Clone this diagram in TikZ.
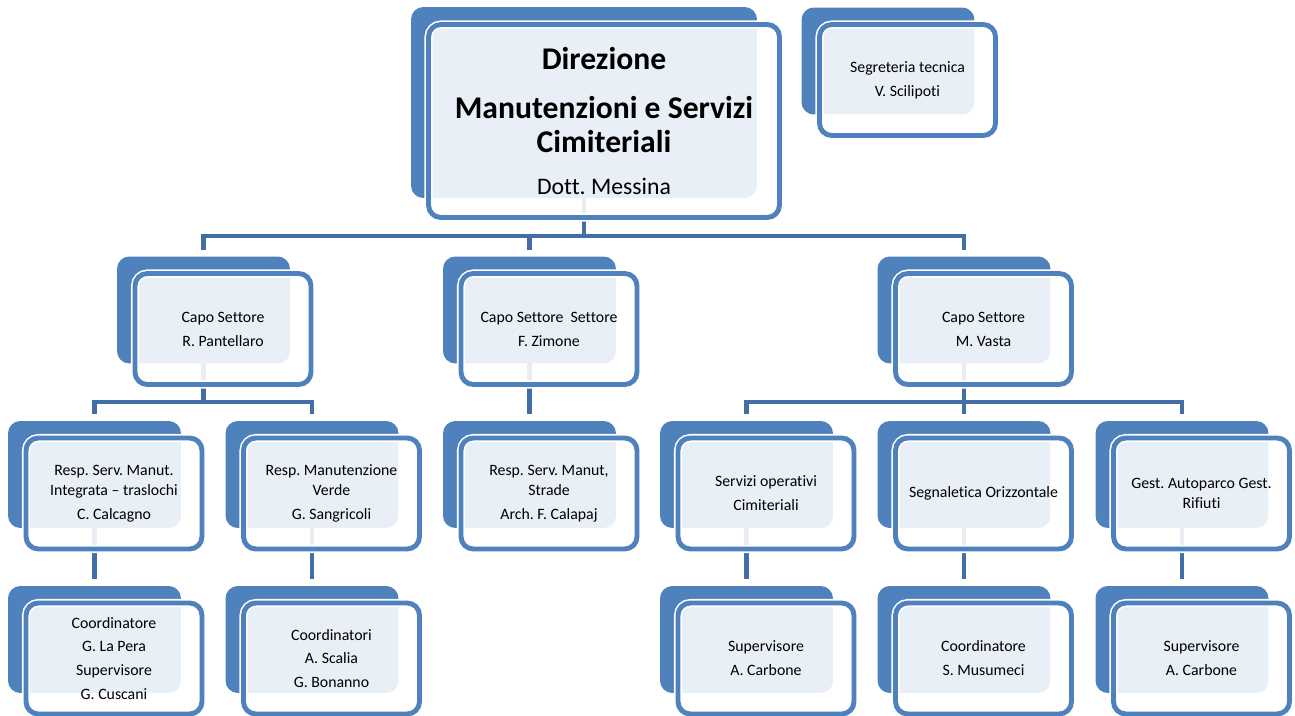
\documentclass[tikz,border=0pt]{standalone}
\usepackage{fontspec}
\setmainfont{Carlito}[Ligatures={NoCommon}]
\usetikzlibrary{calc,backgrounds}
\definecolor{boxblue}{RGB}{79,129,189}
\definecolor{linkblue}{RGB}{66,110,165}
\frenchspacing

\begin{document}
\begin{tikzpicture}[x=0.02cm,y=-0.02cm,
    back/.style={rectangle, rounded corners=7pt, fill=boxblue, inner sep=0pt, outer sep=0pt,
      minimum width=3.46cm, minimum height=2.14cm},
    front/.style={rectangle, rounded corners=7pt, fill=white, fill opacity=0.88, text opacity=1,
      draw=boxblue, line width=2.8pt, preaction={draw=white, line width=4.6pt},
      inner sep=0pt, outer sep=0pt, minimum width=3.52cm, minimum height=2.22cm,
      align=center, font=\fontsize{9}{11.3}\selectfont},
    link/.style={draw=linkblue, line width=2.8pt}]
    \useasboundingbox (0,0) rectangle (1295,716);
    % top
    \node[back, minimum width=6.92cm, minimum height=3.82cm] (dir) at (584,102.5) {};
    \node[front, minimum width=7.02cm, minimum height=3.86cm] (dirF) at ($(dir)+(20,18.5)$) {};
    \node[align=center, font=\fontsize{18}{19.3}\selectfont\bfseries] (dirT) at (604,100)
      {Direzione\\[8.7pt]Manutenzioni e Servizi\\Cimiteriali};
    \node[font=\fontsize{13.5}{15}\selectfont] (dirN) at (604,186) {Dott. Messina};
    \node[back] (seg) at (888,61) {};
    \node[front] (segF) at ($(seg)+(19.5,19)$) {Segreteria tecnica\\[2.3pt]V. Scilipoti};
    % lower levels
    \foreach \n/\x/\y/\txt in {
      pant/203.5/310/{Capo Settore\\[2.3pt]R. Pantellaro},
      zim/529.5/310/{Capo Settore~~Settore\\[2.3pt]F. Zimone},
      vasta/964/310/{Capo Settore\\[2.3pt]M. Vasta},
      calca/94.5/474.5/{Resp. Serv. Manut.\\Integrata -- traslochi\\[2.3pt]C. Calcagno},
      sang/312/474.5/{Resp. Manutenzione\\Verde\\[2.3pt]G. Sangricoli},
      calap/529.5/474.5/{Resp. Serv. Manut,\\Strade\\[2.3pt]Arch. F. Calapaj},
      serv/746.5/474.5/{Servizi operativi\\[2.3pt]Cimiteriali},
      segn/964/474.5/{Segnaletica Orizzontale},
      gest/1182/474.5/{Gest. Autoparco Gest.\\Rifiuti},
      calcaS/94.5/639.5/{Coordinatore\\[2.3pt]G. La Pera\\[2.3pt]Supervisore\\[2.3pt]G. Cuscani},
      sangS/312/639.5/{Coordinatori\\[2.3pt]A. Scalia\\[2.3pt]G. Bonanno},
      servS/746.5/639.5/{Supervisore\\[2.3pt]A. Carbone},
      segnS/964/639.5/{Coordinatore\\[2.3pt]S. Musumeci},
      gestS/1182/639.5/{Supervisore\\[2.3pt]A. Carbone}}{
      \node[back] (\n) at (\x,\y) {};
      \node[front] (\n F) at ($(\n)+(19.5,19)$) {\txt};
    }
    % connectors
    \begin{scope}[on background layer]
      \coordinate (busA) at (0,236);
      \coordinate (busB) at (0,402);
      \draw[link] (dir.south) -- (dir.south |- busA);
      \draw[link] ($(pant.north)+(0,-7)$) -- (pant.north |- busA) -- (vasta.north |- busA) -- ($(vasta.north)+(0,-7)$);
      \draw[link] (zim.north |- busA) -- ($(zim.north)+(0,-7)$);
      \draw[link] (pant.south) -- (pant.south |- busB);
      \draw[link] ($(calca.north)+(0,-7)$) -- (calca.north |- busB) -- (sang.north |- busB) -- ($(sang.north)+(0,-7)$);
      \draw[link] (zim.south) -- ($(calap.north)+(0,-7)$);
      \draw[link] (vasta.south) -- (vasta.south |- busB);
      \draw[link] ($(serv.north)+(0,-7)$) -- (serv.north |- busB) -- (gest.north |- busB) -- ($(gest.north)+(0,-7)$);
      \draw[link] (segn.north |- busB) -- ($(segn.north)+(0,-7)$);
      \foreach \a/\b in {calca/calcaS, sang/sangS, serv/servS, segn/segnS, gest/gestS}
        \draw[link] (\a.south) -- ($(\b.north)+(0,-7)$);
    \end{scope}
\end{tikzpicture}
\end{document}
